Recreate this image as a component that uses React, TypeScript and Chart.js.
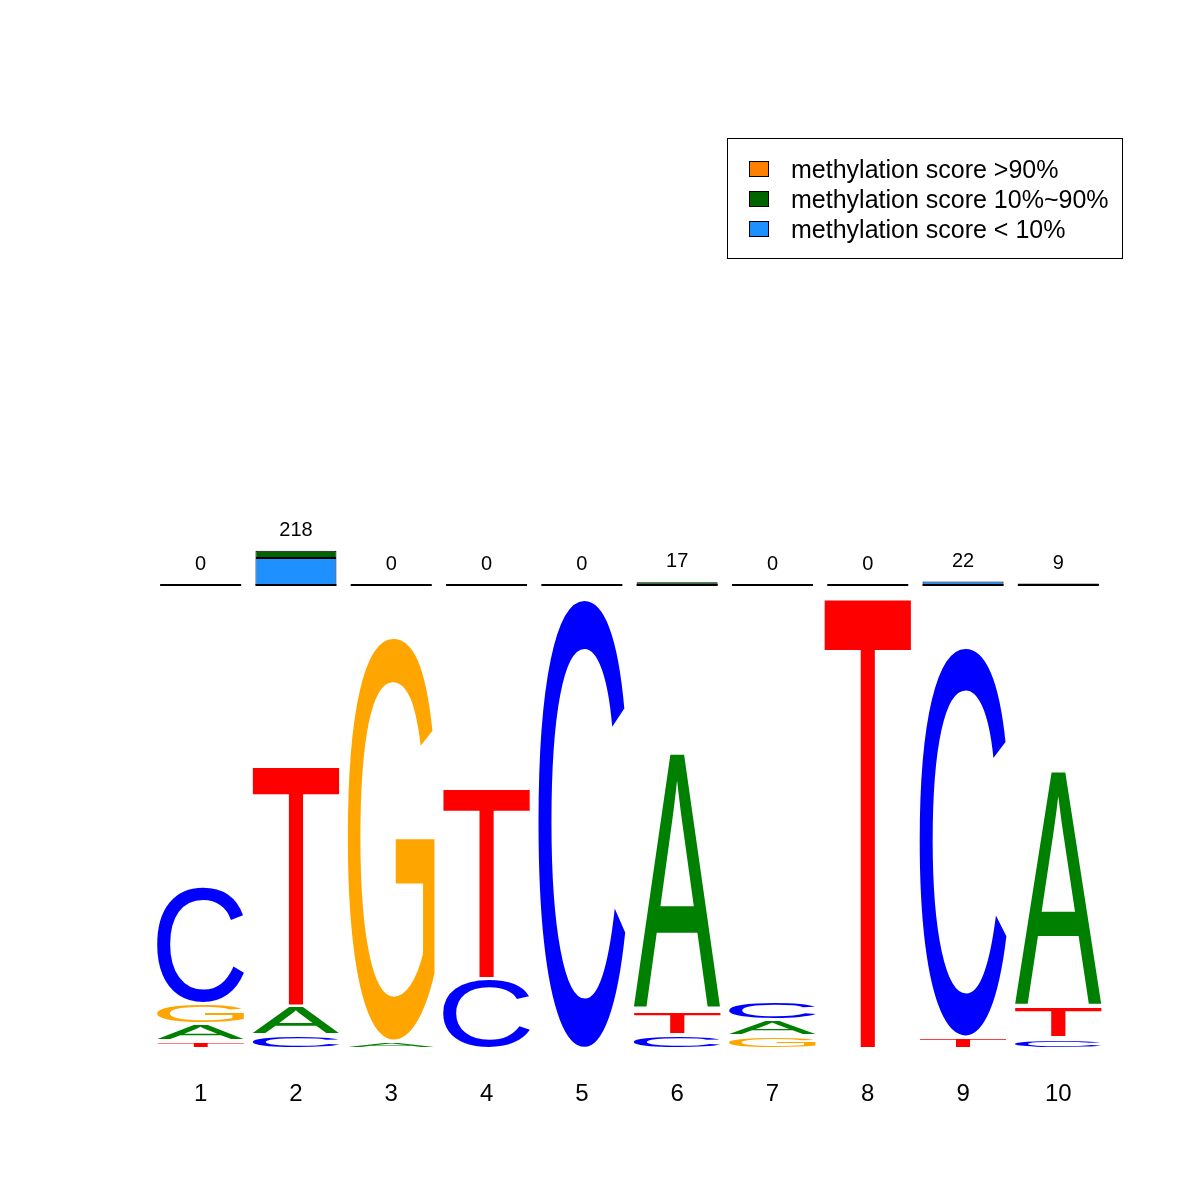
import React, { useEffect, useRef } from "react";
import { Chart, registerables } from "chart.js";

Chart.register(...registerables);

// ---------- data ----------
const positions = ["1", "2", "3", "4", "5", "6", "7", "8", "9", "10"];

// letters stacked from bottom (rank 1) to top (rank 4), heights in bits
const rank1Letters = ["T", "C", "A", "C", "C", "C", "G", "T", "T", "C"];
const rank1Bits = [0.033, 0.062, 0.033, 0.311, 2.0, 0.064, 0.058, 2.0, 0.051, 0.047];
const rank2Letters = ["A", "A", "G", "T", "", "T", "A", "", "C", "T"];
const rank2Bits = [0.077, 0.127, 1.798, 0.846, 0, 0.108, 0.071, 0, 1.736, 0.138];
const rank3Letters = ["G", "T", "", "", "", "A", "C", "", "", "A"];
const rank3Bits = [0.092, 1.066, 0, 0, 0, 1.144, 0.084, 0, 0, 1.052];
const rank4Letters = ["C", "", "", "", "", "", "", "", "", ""];
const rank4Bits = [0.524, 0, 0, 0, 0, 0, 0, 0, 0, 0];

// methylation counts per position
const methLow = [0, 172, 0, 0, 0, 0, 0, 0, 22, 0]; // < 10%
const methMid = [0, 46, 0, 0, 0, 17, 0, 0, 0, 9]; // 10%~90%
const methHigh = [0, 0, 0, 0, 0, 0, 0, 0, 0, 0]; // > 90%

const legendLabels = ["methylation score < 10%", "methylation score 10%~90%", "methylation score >90%"];

// ---------- styles / layout ----------
const LETTER_COLORS: Record<string, string> = {
  A: "#008000",
  C: "#0000FF",
  G: "#FFA500",
  T: "#FF0000",
};
const LETTER_STRETCH: Record<string, number> = { A: 0, C: 0, G: 0, T: 0.009 };
const METH_COLORS = ["#1E90FF", "#006400", "#FF7F00"];
const FONT = '"Liberation Sans", Arial, Helvetica, sans-serif';

const W = 1200;
const H = 1200;
const AREA_TOP = 20;
const AREA_BOTTOM = 1047;
const LOGO_TOP_PX = 596.5; // pixel of 2 bits
const METH_ZERO_PX = 585;
const METH_PX_PER_COUNT = 34.3 / 218;
const LETTER_GAP = 3.5;

const pxPerBit = (AREA_BOTTOM - LOGO_TOP_PX) / 2;
const logoMax = (AREA_BOTTOM - AREA_TOP) / pxPerBit;
const methMin = -(AREA_BOTTOM - METH_ZERO_PX) / METH_PX_PER_COUNT;
const methMax = methMin + (AREA_BOTTOM - AREA_TOP) / METH_PX_PER_COUNT;

function drawGlyph(ctx: CanvasRenderingContext2D, letter: string, x0: number, y0: number, w: number, h: number, color: string) {
  if (w <= 0 || h <= 0) return;
  ctx.save();
  ctx.font = `200px ${FONT}`;
  ctx.textAlign = "left";
  ctx.textBaseline = "alphabetic";
  const m = ctx.measureText(letter);
  const gl = m.actualBoundingBoxLeft;
  const gw = m.actualBoundingBoxLeft + m.actualBoundingBoxRight;
  const ga = m.actualBoundingBoxAscent;
  const gh = m.actualBoundingBoxAscent + m.actualBoundingBoxDescent;
  ctx.translate(x0, y0);
  ctx.scale(w / gw, h / gh);
  ctx.fillStyle = color;
  ctx.fillText(letter, gl, ga);
  ctx.restore();
}

const logoPlugin = {
  id: "logoLetters",
  beforeDatasetsDraw(chart: any) {
    // zero baselines of methylation bars
    const ctx = chart.ctx as CanvasRenderingContext2D;
    const yM = chart.scales.yM;
    const meta = chart.data.datasets.findIndex((d: any) => d.meth);
    if (meta < 0) return;
    const els = chart.getDatasetMeta(meta).data;
    ctx.save();
    ctx.fillStyle = "#000";
    els.forEach((el: any) => {
      const { x, width } = el.getProps(["x", "width"], true);
      const y0 = yM.getPixelForValue(0);
      ctx.fillRect(x - width / 2, y0 - 1, width, 2);
    });
    ctx.restore();
  },
  afterDatasetsDraw(chart: any) {
    const ctx = chart.ctx as CanvasRenderingContext2D;
    chart.data.datasets.forEach((ds: any, di: number) => {
      if (!ds.letters) return;
      const meta = chart.getDatasetMeta(di);
      meta.data.forEach((el: any, i: number) => {
        const letter = ds.letters[i];
        const v = ds.data[i];
        if (!letter || !v) return;
        const { x, y, base, width } = el.getProps(["x", "y", "base", "width"], true);
        const top = Math.min(y, base);
        const bottom = Math.max(y, base);
        const h = bottom - top;
        const gTop = top + Math.min(LETTER_GAP, h * 0.5);
        const extra = (bottom - gTop) * (LETTER_STRETCH[letter] || 0);
        drawGlyph(ctx, letter, x - width / 2, gTop - extra, width, bottom - gTop + extra, LETTER_COLORS[letter]);
      });
    });

    // methylation count labels
    const yM = chart.scales.yM;
    const methSets = chart.data.datasets
      .map((d: any, i: number) => ({ d, i }))
      .filter((o: any) => o.d.meth);
    if (methSets.length) {
      const els = chart.getDatasetMeta(methSets[0].i).data;
      ctx.save();
      ctx.font = `20px ${FONT}`;
      ctx.fillStyle = "#000";
      ctx.textAlign = "center";
      ctx.textBaseline = "middle";
      els.forEach((el: any, i: number) => {
        const total = methSets.reduce((s: number, o: any) => s + (o.d.data[i] || 0), 0);
        const yTop = yM.getPixelForValue(total);
        ctx.fillText(String(total), el.x, yTop - 20.5);
      });
      ctx.restore();
    }

    // legend
    const lx = 727, ly = 138, lw = 395, lh = 120;
    ctx.save();
    ctx.strokeStyle = "#000";
    ctx.lineWidth = 1;
    ctx.strokeRect(lx + 0.5, ly + 0.5, lw, lh);
    ctx.font = `25px ${FONT}`;
    ctx.textAlign = "left";
    ctx.textBaseline = "alphabetic";
    const ordered = methSets.slice().reverse();
    ordered.forEach((o: any, k: number) => {
      const base = 178 + k * 30;
      ctx.fillStyle = o.d.backgroundColor;
      ctx.fillRect(749, base - 17, 20, 16);
      ctx.strokeStyle = "#000";
      ctx.strokeRect(749.5, base - 16.5, 19, 15);
      ctx.fillStyle = "#000";
      ctx.fillText(o.d.label, 791, base);
    });
    ctx.restore();
  },
};

export default function App() {
  const ref = useRef<HTMLCanvasElement | null>(null);

  useEffect(() => {
    if (!ref.current) return;
    const letterSet = (letters: string[], bits: number[], name: string) => ({
      label: name,
      data: bits,
      letters,
      yAxisID: "y",
      backgroundColor: "rgba(0,0,0,0)",
      borderWidth: 0,
      categoryPercentage: 1,
      barPercentage: 0.912,
    });
    const methSet = (data: number[], label: string, color: string) => ({
      label,
      data,
      meth: true,
      yAxisID: "yM",
      backgroundColor: color,
      borderColor: "#000",
      borderWidth: 1,
      borderSkipped: false,
      categoryPercentage: 1,
      barPercentage: 0.85,
    });

    const chart = new Chart(ref.current, {
      type: "bar",
      data: {
        labels: positions,
        datasets: [
          letterSet(rank1Letters, rank1Bits, "rank1"),
          letterSet(rank2Letters, rank2Bits, "rank2"),
          letterSet(rank3Letters, rank3Bits, "rank3"),
          letterSet(rank4Letters, rank4Bits, "rank4"),
          methSet(methLow, legendLabels[0], METH_COLORS[0]),
          methSet(methMid, legendLabels[1], METH_COLORS[1]),
          methSet(methHigh, legendLabels[2], METH_COLORS[2]),
        ] as any,
      },
      options: {
        responsive: false,
        animation: false,
        devicePixelRatio: 1,
        layout: { padding: { left: 153, right: 94, top: AREA_TOP, bottom: 0 } },
        plugins: { legend: { display: false }, tooltip: { enabled: false } },
        scales: {
          x: {
            stacked: true,
            grid: { display: false, drawTicks: false },
            border: { display: false },
            ticks: { color: "#000", font: { family: FONT, size: 24 }, padding: 33 },
            afterFit: (s: any) => {
              s.height = H - AREA_BOTTOM;
            },
          },
          y: { display: false, stacked: true, min: 0, max: logoMax },
          yM: { display: false, stacked: true, min: methMin, max: methMax },
        },
      } as any,
      plugins: [logoPlugin],
    });
    return () => chart.destroy();
  }, []);

  return (
    <div style={{ position: "absolute", left: 0, top: 0, width: W, height: H, background: "#fff" }}>
      <canvas ref={ref} width={W} height={H} style={{ width: W, height: H, display: "block" }} />
    </div>
  );
}
